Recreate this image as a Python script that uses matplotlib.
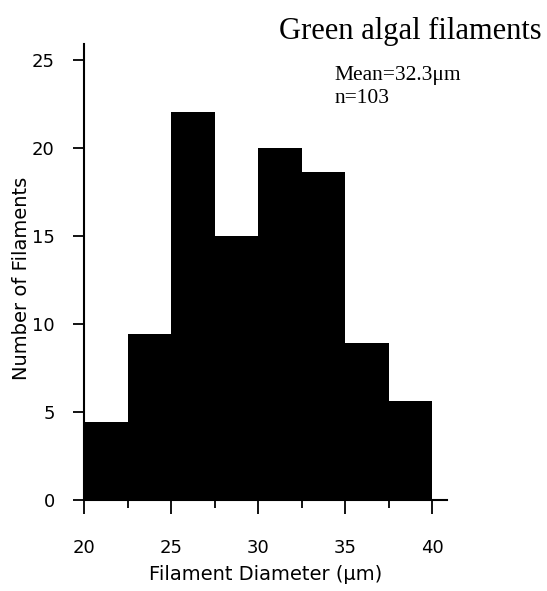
import matplotlib
matplotlib.use("Agg")
import matplotlib.pyplot as plt
from matplotlib.ticker import MultipleLocator

# bin left edges (um) and counts
bin_edges = [20, 22.5, 25, 27.5, 30, 32.5, 35, 37.5]
counts = [4.4, 9.4, 22.0, 15.0, 20.0, 18.6, 8.9, 5.6]
bin_width = 2.5

fig = plt.figure(figsize=(5.47, 5.91), dpi=100)
ax = fig.add_axes([0.1536, 0.154, 0.664, 0.772])

ax.bar(bin_edges, counts, width=bin_width, align="edge",
       color="black", linewidth=0, antialiased=False)

ax.set_xlim(20, 40.86)
ax.set_ylim(0, 25.9)

for s in ["top", "right"]:
    ax.spines[s].set_visible(False)
ax.spines["left"].set_linewidth(1.5)
ax.spines["bottom"].set_linewidth(1.5)

ax.xaxis.set_major_locator(MultipleLocator(5))
ax.xaxis.set_minor_locator(MultipleLocator(2.5))
ax.yaxis.set_major_locator(MultipleLocator(5))
ax.tick_params(axis="x", which="major", length=10, width=1.3, pad=18, labelsize=13)
ax.tick_params(axis="x", which="minor", length=6, width=1.3)
ax.tick_params(axis="y", length=8, width=1.3, pad=13, labelsize=13)

ax.set_xlabel("Filament Diameter (μm)", fontsize=14, labelpad=6)
ax.set_ylabel("Number of Filaments", fontsize=14, va="center")
ax.yaxis.set_label_coords(-0.171, 0.485)

fig.text(0.99, 0.947, "Green algal filaments", ha="right", va="center",
         family="Liberation Serif", fontsize=22)
ax.text(0.69, 0.952, "Mean=32.3μm\nn=103", transform=ax.transAxes,
        family="Liberation Serif", fontsize=15.5, va="top", ha="left",
        linespacing=1.3)

fig.savefig("out.png", dpi=100)
